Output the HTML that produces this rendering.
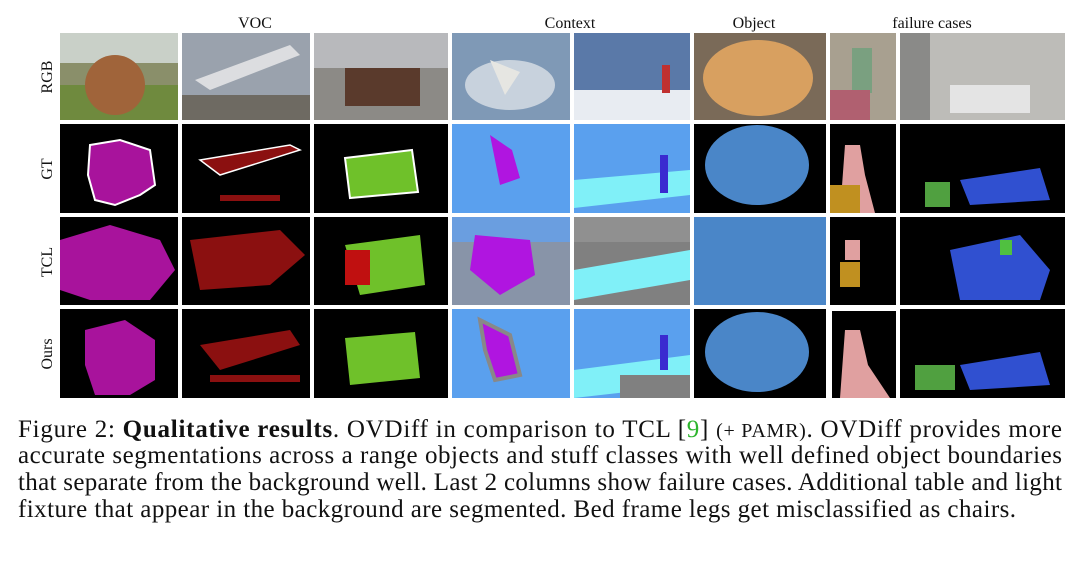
<!DOCTYPE html>
<html><head><meta charset="utf-8"><style>
html,body{margin:0;padding:0;background:#fff;width:1080px;height:561px;overflow:hidden}
svg{display:block}
.cap{font-family:"Liberation Serif",serif;font-size:25px;fill:#111}
.lbl{font-family:"Liberation Serif",serif;font-size:16px;fill:#111}
</style></head><body>
<svg width="1080" height="561" viewBox="0 0 1080 561">
<g>
<text class="lbl" x="255" y="28" text-anchor="middle">VOC</text>
<text class="lbl" x="570" y="28" text-anchor="middle">Context</text>
<text class="lbl" x="754" y="28" text-anchor="middle">Object</text>
<text class="lbl" x="932" y="28" text-anchor="middle">failure cases</text>
</g>
<g>
<text class="lbl" transform="translate(52,77) rotate(-90)" text-anchor="middle">RGB</text>
<text class="lbl" transform="translate(52,169) rotate(-90)" text-anchor="middle">GT</text>
<text class="lbl" transform="translate(52,262) rotate(-90)" text-anchor="middle">TCL</text>
<text class="lbl" transform="translate(52,354) rotate(-90)" text-anchor="middle">Ours</text>
</g>
<g>
<rect x="60" y="33" width="118" height="87" fill="#8a8f6a"/><rect x="60" y="33" width="118" height="30" fill="#c9d0c8"/><rect x="60" y="85" width="118" height="35" fill="#6f8a3e"/><ellipse cx="115" cy="85" rx="30" ry="30" fill="#a0643a"/>
<rect x="182" y="33" width="128" height="87" fill="#9aa2ad"/><rect x="182" y="95" width="128" height="25" fill="#6e6a62"/><polygon points="195,80 290,45 300,55 210,90" fill="#dcdde0"/>
<rect x="314" y="33" width="134" height="87" fill="#8c8a86"/><rect x="314" y="33" width="134" height="35" fill="#b8b9bc"/><rect x="345" y="68" width="75" height="38" fill="#5a3a2c"/>
<rect x="452" y="33" width="118" height="87" fill="#7f99b6"/><ellipse cx="510" cy="85" rx="45" ry="25" fill="#c8d2dd"/><polygon points="490,60 520,72 505,95" fill="#e6e6e2"/>
<rect x="574" y="33" width="116" height="87" fill="#5a79a8"/><rect x="574" y="90" width="116" height="30" fill="#e8ecf2"/><rect x="662" y="65" width="8" height="28" fill="#c03030"/>
<rect x="694" y="33" width="132" height="87" fill="#7a6a58"/><ellipse cx="758" cy="78" rx="55" ry="38" fill="#d8a060"/>
<rect x="830" y="33" width="66" height="87" fill="#a8a090"/><rect x="852" y="48" width="20" height="45" fill="#7aa080"/><rect x="830" y="90" width="40" height="30" fill="#b06070"/>
<rect x="900" y="33" width="165" height="87" fill="#bdbcb8"/><rect x="950" y="85" width="80" height="28" fill="#e4e4e4"/><rect x="900" y="33" width="30" height="87" fill="#8a8a88"/>
</g>
<g>
<rect x="60" y="124" width="118" height="89" fill="#000"/><path d="M90,145 L120,140 L150,150 L155,185 L140,195 L115,205 L95,200 L88,175 Z" fill="#a8139c" stroke="#fff" stroke-width="2"/>
<rect x="182" y="124" width="128" height="89" fill="#000"/><polygon points="200,160 290,145 300,150 220,175" fill="#8b1010" stroke="#fff" stroke-width="1.5"/><rect x="220" y="195" width="60" height="6" fill="#8b1010"/>
<rect x="314" y="124" width="134" height="89" fill="#000"/><polygon points="345,158 412,150 418,192 350,198" fill="#6fc12a" stroke="#fff" stroke-width="2"/>
<rect x="452" y="124" width="118" height="89" fill="#5aa0ee"/><path d="M490,135 L512,150 L520,178 L500,185 L495,160 Z" fill="#b015e0"/>
<rect x="574" y="124" width="116" height="89" fill="#5aa0ee"/><polygon points="574,180 690,170 690,195 574,208" fill="#80f0f8"/><rect x="660" y="155" width="8" height="38" fill="#3a2ad0"/>
<rect x="694" y="124" width="132" height="89" fill="#000"/><ellipse cx="757" cy="165" rx="52" ry="40" fill="#4a86c8"/>
<rect x="830" y="124" width="66" height="89" fill="#000"/><path d="M845,145 L860,145 L865,175 L875,213 L840,213 Z" fill="#e0a0a0"/><rect x="830" y="185" width="30" height="28" fill="#c09020"/>
<rect x="900" y="124" width="165" height="89" fill="#000"/><polygon points="960,180 1040,168 1050,200 970,205" fill="#3050d0"/><rect x="925" y="182" width="25" height="25" fill="#50a040"/>
</g>
<g>
<rect x="60" y="217" width="118" height="88" fill="#000"/><path d="M60,240 L110,225 L160,240 L175,270 L150,300 L90,300 L60,290 Z" fill="#a8139c"/>
<rect x="182" y="217" width="128" height="88" fill="#000"/><path d="M190,240 L280,230 L305,255 L270,285 L200,290 Z" fill="#8b1010"/>
<rect x="314" y="217" width="134" height="88" fill="#000"/><polygon points="345,245 420,235 425,285 360,295" fill="#6fc12a"/><rect x="345" y="250" width="25" height="35" fill="#c01010"/>
<rect x="452" y="217" width="118" height="88" fill="#8894a8"/><rect x="452" y="217" width="118" height="25" fill="#6a9ee0"/><path d="M475,235 L530,240 L535,275 L500,295 L470,270 Z" fill="#b015e0"/>
<rect x="574" y="217" width="116" height="88" fill="#808080"/><polygon points="574,270 690,250 690,280 574,300" fill="#80f0f8"/><rect x="574" y="217" width="116" height="25" fill="#909090"/>
<rect x="694" y="217" width="132" height="88" fill="#4a86c8"/>
<rect x="830" y="217" width="66" height="88" fill="#000"/><rect x="845" y="240" width="15" height="20" fill="#e0a0a0"/><rect x="840" y="262" width="20" height="25" fill="#c09020"/>
<rect x="900" y="217" width="165" height="88" fill="#000"/><path d="M950,250 L1020,235 L1050,270 L1040,300 L960,300 Z" fill="#3050d0"/><rect x="1000" y="240" width="12" height="15" fill="#50c040"/>
</g>
<g>
<rect x="60" y="309" width="118" height="89" fill="#000"/><path d="M85,330 L125,320 L155,340 L155,380 L130,395 L95,395 L85,365 Z" fill="#a8139c"/>
<rect x="182" y="309" width="128" height="89" fill="#000"/><path d="M200,345 L290,330 L300,345 L220,370 Z" fill="#8b1010"/><rect x="210" y="375" width="90" height="7" fill="#8b1010"/>
<rect x="314" y="309" width="134" height="89" fill="#000"/><polygon points="345,338 415,332 420,378 350,385" fill="#6fc12a"/>
<rect x="452" y="309" width="118" height="89" fill="#5aa0ee"/><path d="M480,320 L510,335 L520,375 L495,380 L485,350 Z" fill="#b015e0" stroke="#888" stroke-width="4"/>
<rect x="574" y="309" width="116" height="89" fill="#5aa0ee"/><polygon points="574,370 690,355 690,385 574,398" fill="#80f0f8"/><rect x="620" y="375" width="70" height="23" fill="#808080"/><rect x="660" y="335" width="8" height="35" fill="#3a2ad0"/>
<rect x="694" y="309" width="132" height="89" fill="#000"/><ellipse cx="757" cy="352" rx="52" ry="40" fill="#4a86c8"/>
<rect x="830" y="309" width="66" height="89" fill="#fff"/><rect x="832" y="311" width="64" height="87" fill="#000"/><path d="M845,330 L860,330 L868,365 L890,398 L840,398 Z" fill="#e0a0a0"/>
<rect x="900" y="309" width="165" height="89" fill="#000"/><polygon points="960,365 1040,352 1050,385 970,390" fill="#3050d0"/><rect x="915" y="365" width="40" height="25" fill="#50a040"/>
</g>
<g>
<text class="cap" x="18" y="437" textLength="1044" lengthAdjust="spacing">Figure 2: <tspan font-weight="bold">Qualitative results</tspan>. OVDiff in comparison to TCL [<tspan fill="#2db52d">9</tspan>] <tspan font-size="20">(+ PAMR)</tspan>. OVDiff provides more</text>
<text class="cap" x="18" y="463" textLength="1044" lengthAdjust="spacing">accurate segmentations across a range objects and stuff classes with well defined object boundaries</text>
<text class="cap" x="18" y="490" textLength="1044" lengthAdjust="spacing">that separate from the background well. Last 2 columns show failure cases. Additional table and light</text>
<text class="cap" x="18" y="517" textLength="998" lengthAdjust="spacing">fixture that appear in the background are segmented. Bed frame legs get misclassified as chairs.</text>
</g>
</svg>
</body></html>
